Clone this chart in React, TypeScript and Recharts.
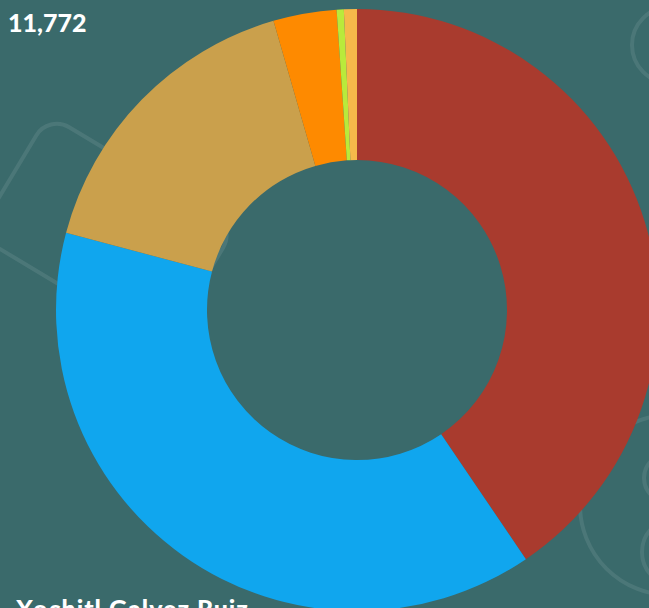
import React from "react";
import { PieChart, Pie, Cell } from "recharts";

const candidates = ["Claudia Sheinbaum Pardo", "Xochitl Galvez Ruiz", "Candidato 3", "Jorge Álvarez Máynez", "Candidato 5", "Candidato 6"];
const votes = [4770, 4545, 1930, 400, 45, 82];
const colors = ["#a93b2e", "#10a6ee", "#caa04c", "#fe8a00", "#b9ea3b", "#f6b94a"];
const totalLabel = "11,772";
const bottomLabel = "Xochitl Galvez Ruiz";

const data = candidates.map((name, i) => ({ name, value: votes[i] }));

const W = 649;
const H = 608;
const BG = "#3a6a6b";

export default function App() {
  const deco = "rgba(255,255,255,0.09)";
  return (
    <div
      style={{
        position: "absolute",
        left: 0,
        top: 0,
        width: W,
        height: H,
        overflow: "hidden",
        background: BG,
        fontFamily: "Lato, 'Open Sans', sans-serif",
      }}
    >
      <svg width={W} height={H} style={{ position: "absolute", left: 0, top: 0 }}>
        <rect x={-109} y={-70} width={218} height={140} rx={24} fill="none" stroke={deco} strokeWidth={4} transform="translate(106,231) rotate(31)" />
        <circle cx={670} cy={505} r={90} fill="none" stroke={deco} strokeWidth={4} />
        <circle cx={668} cy={478} r={24} fill="none" stroke={deco} strokeWidth={4} />
        <circle cx={676} cy={552} r={34} fill="none" stroke={deco} strokeWidth={4} />
        <circle cx={670} cy={45} r={38} fill="none" stroke={deco} strokeWidth={4} />
      </svg>
      <div style={{ position: "absolute", left: 0, top: 0 }}>
        <PieChart width={W} height={H} margin={{ top: 0, right: 0, bottom: 0, left: 0 }}>
          <Pie
            data={data}
            dataKey="value"
            nameKey="name"
            cx={357}
            cy={310}
            innerRadius={150}
            outerRadius={301}
            startAngle={90}
            endAngle={-270}
            stroke="none"
            isAnimationActive={false}
          >
            {data.map((d, i) => (
              <Cell key={d.name} fill={colors[i]} />
            ))}
          </Pie>
        </PieChart>
      </div>
      <div
        style={{
          position: "absolute",
          left: 8,
          top: 7,
          color: "#fff",
          fontWeight: 900,
          fontSize: 25,
          lineHeight: "30px",
        }}
      >
        {totalLabel}
      </div>
      <div
        style={{
          position: "absolute",
          left: 16,
          top: 593,
          color: "#fff",
          fontWeight: 900,
          fontSize: 25,
          lineHeight: "30px",
          letterSpacing: "1px",
          whiteSpace: "nowrap",
        }}
      >
        {bottomLabel}
      </div>
    </div>
  );
}
